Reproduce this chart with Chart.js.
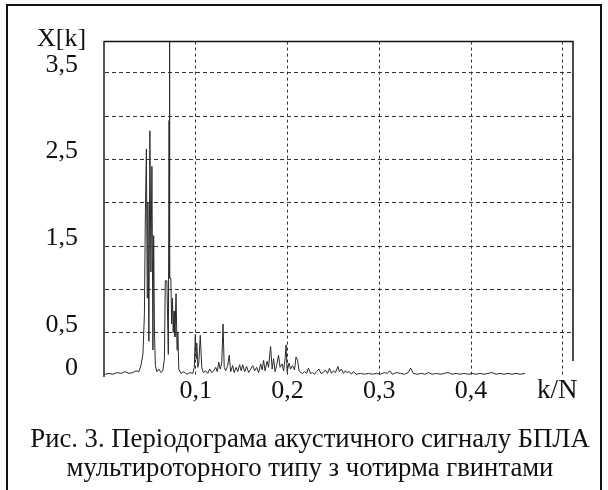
<!DOCTYPE html>
<html>
<head>
<meta charset="utf-8">
<script src="https://cdn.jsdelivr.net/npm/chart.js@4.4.1/dist/chart.umd.min.js"></script>
<style>
  body { margin: 0; background: #fff; }
  #wrap { position: relative; width: 608px; height: 490px; overflow: hidden; font-family: "Liberation Serif", "DejaVu Serif", serif; color: #111; }
  #chart { position: absolute; left: 0; top: 0; }
  #frame { position: absolute; left: 6px; top: 4px; width: 596px; height: 520px; border: 2px solid #111; box-sizing: border-box; }
  .lbl { position: absolute; white-space: nowrap; }
  #ytitle { left: 37px; top: 25px; font-size: 26px; line-height: 26px; }
  #xtitle { left: 537px; top: 376px; font-size: 27px; line-height: 27px; }
  #caption { left: 0; width: 620px; top: 424px; font-size: 26.7px; line-height: 29px; text-align: center; }
</style>
</head>
<body>
<div id="wrap">
  <canvas id="chart" width="608" height="490"></canvas>
  <div id="frame"></div>
  <div class="lbl" id="ytitle">X[k]</div>
  <div class="lbl" id="xtitle">k/N</div>
  <div class="lbl" id="caption">Рис. 3. Періодограма акустичного сигналу БПЛА<br>мультироторного типу з чотирма гвинтами</div>
</div>
<script>
// k/N positions of the traced periodogram vertices
const kN = [
  0.0011, 0.0054, 0.0098, 0.0141, 0.0185, 0.0228, 0.0272, 0.0315, 0.0348, 0.0380,
  0.0402, 0.0424, 0.0440, 0.0451, 0.0462, 0.0471, 0.0478, 0.0489, 0.0500, 0.0511,
  0.0522, 0.0533, 0.0541, 0.0550, 0.0560, 0.0576, 0.0598, 0.0620, 0.0641, 0.0658,
  0.0668, 0.0685, 0.0701, 0.0709, 0.0713, 0.0717, 0.0728, 0.0737, 0.0746, 0.0754,
  0.0763, 0.0772, 0.0785, 0.0796, 0.0804, 0.0815, 0.0837, 0.0870, 0.0902, 0.0935,
  0.0967, 0.0984, 0.0995, 0.1003, 0.1011, 0.1022, 0.1033, 0.1049, 0.1065, 0.1082,
  0.1109, 0.1130, 0.1152, 0.1174, 0.1196, 0.1217, 0.1234, 0.1250, 0.1266, 0.1283,
  0.1297, 0.1310, 0.1326, 0.1348, 0.1364, 0.1380, 0.1402, 0.1418, 0.1440, 0.1457,
  0.1478, 0.1495, 0.1511, 0.1533, 0.1554, 0.1576, 0.1598, 0.1620, 0.1641, 0.1663,
  0.1685, 0.1707, 0.1723, 0.1739, 0.1755, 0.1777, 0.1793, 0.1815, 0.1832, 0.1848,
  0.1864, 0.1880, 0.1902, 0.1918, 0.1940, 0.1957, 0.1973, 0.1984, 0.1995, 0.2016,
  0.2033, 0.2054, 0.2076, 0.2092, 0.2109, 0.2125, 0.2141, 0.2163, 0.2185, 0.2207,
  0.2228, 0.2250, 0.2272, 0.2293, 0.2315, 0.2342, 0.2364, 0.2391, 0.2413, 0.2435,
  0.2457, 0.2478, 0.2500, 0.2522, 0.2549, 0.2565, 0.2587, 0.2609, 0.2630, 0.2652,
  0.2674, 0.2696, 0.2717, 0.2750, 0.2793, 0.2837, 0.2880, 0.2924, 0.2967, 0.3011,
  0.3054, 0.3087, 0.3114, 0.3141, 0.3185, 0.3228, 0.3272, 0.3315, 0.3342, 0.3370,
  0.3413, 0.3457, 0.3500, 0.3533, 0.3576, 0.3620, 0.3663, 0.3707, 0.3750, 0.3793,
  0.3837, 0.3880, 0.3924, 0.3967, 0.4011, 0.4054, 0.4098, 0.4141, 0.4185, 0.4228,
  0.4272, 0.4315, 0.4359, 0.4402, 0.4446, 0.4489, 0.4533, 0.4587
];
// X[k] amplitude at each vertex
const Xk = [
  0.02, 0.03, 0.02, 0.04, 0.03, 0.05, 0.03, 0.04, 0.06, 0.05,
  0.12, 0.25, 0.70, 1.90, 2.62, 0.90, 2.00, 0.40, 2.83, 1.20,
  2.42, 0.30, 1.62, 0.50, 0.12, 0.05, 0.08, 0.04, 0.06, 0.20,
  1.10, 1.10, 0.25, 2.95, 4.60, 1.13, 1.13, 0.60, 0.90, 0.50,
  0.75, 0.45, 0.95, 0.30, 0.50, 0.08, 0.03, 0.05, 0.02, 0.04,
  0.03, 0.10, 0.48, 0.20, 0.38, 0.10, 0.15, 0.47, 0.10, 0.04,
  0.06, 0.03, 0.08, 0.04, 0.06, 0.10, 0.05, 0.16, 0.08, 0.15,
  0.60, 0.10, 0.06, 0.12, 0.24, 0.05, 0.12, 0.04, 0.10, 0.05,
  0.13, 0.06, 0.13, 0.05, 0.11, 0.04, 0.08, 0.12, 0.06, 0.10,
  0.04, 0.14, 0.07, 0.18, 0.06, 0.17, 0.10, 0.34, 0.08, 0.20,
  0.05, 0.12, 0.24, 0.10, 0.14, 0.06, 0.20, 0.36, 0.05, 0.15,
  0.08, 0.12, 0.07, 0.22, 0.18, 0.06, 0.04, 0.03, 0.05, 0.03,
  0.09, 0.03, 0.04, 0.02, 0.05, 0.08, 0.03, 0.04, 0.07, 0.03,
  0.09, 0.03, 0.06, 0.04, 0.11, 0.05, 0.08, 0.03, 0.06, 0.04,
  0.05, 0.02, 0.05, 0.02, 0.03, 0.02, 0.03, 0.02, 0.03, 0.02,
  0.04, 0.03, 0.06, 0.02, 0.04, 0.03, 0.02, 0.04, 0.09, 0.03,
  0.02, 0.03, 0.02, 0.04, 0.02, 0.03, 0.02, 0.03, 0.04, 0.02,
  0.03, 0.02, 0.03, 0.02, 0.03, 0.02, 0.03, 0.02, 0.03, 0.04,
  0.02, 0.03, 0.02, 0.03, 0.02, 0.03, 0.02, 0.03
];

const xTicks = [0.1, 0.2, 0.3, 0.4, 0.5];
const xTickLabels = ['0,1', '0,2', '0,3', '0,4', ''];
const yTicks = [0, 0.5, 1, 1.5, 2, 2.5, 3, 3.5];
const yTickLabels = ['0', '0,5', '', '1,5', '', '2,5', '', '3,5'];

const serif = { family: '"Liberation Serif", "DejaVu Serif", serif', size: 26 };

// top and right edges of the plot box
const boxEdges = {
  id: 'boxEdges',
  afterDraw(chart) {
    const { ctx, chartArea: a } = chart;
    ctx.save();
    ctx.strokeStyle = '#111';
    ctx.lineWidth = 1.5;
    ctx.beginPath();
    ctx.moveTo(a.left, a.top);
    ctx.lineTo(a.right, a.top);
    ctx.lineTo(a.right, a.bottom - 15);
    ctx.stroke();
    ctx.restore();
  }
};

new Chart(document.getElementById('chart'), {
  type: 'line',
  plugins: [boxEdges],
  data: {
    datasets: [{
      data: kN.map((x, i) => ({ x: x, y: Xk[i] })),
      borderColor: '#2a2a2a',
      borderWidth: 1,
      pointRadius: 0,
      tension: 0,
      fill: false
    }]
  },
  options: {
    responsive: false,
    animation: false,
    events: [],
    layout: { padding: { left: 0, top: 40, right: 35, bottom: 0 } },
    plugins: { legend: { display: false }, tooltip: { enabled: false } },
    scales: {
      x: {
        type: 'linear',
        min: 0,
        max: 0.511,
        afterBuildTicks: (scale) => { scale.ticks = xTicks.map(v => ({ value: v })); },
        afterFit: (scale) => { scale.height = 114; },
        grid: { color: '#333', lineWidth: 1, drawTicks: false },
        border: { display: false, dash: [3, 3] },
        ticks: {
          color: '#111',
          font: serif,
          padding: 0,
          maxRotation: 0,
          autoSkip: false,
          callback: (v, i) => xTickLabels[i]
        }
      },
      y: {
        min: 0,
        max: 3.86,
        afterBuildTicks: (scale) => { scale.ticks = yTicks.map(v => ({ value: v })); },
        afterFit: (scale) => { scale.width = 104; },
        grid: {
          color: (c) => (c.tick && c.tick.value === 0 ? 'rgba(0,0,0,0)' : '#333'),
          lineWidth: 1,
          drawTicks: false
        },
        border: { display: true, color: '#555', width: 2, dash: [4, 3] },
        ticks: {
          color: '#111',
          font: serif,
          padding: 26,
          labelOffset: -8,
          autoSkip: false,
          callback: (v, i) => yTickLabels[i]
        }
      }
    }
  }
});
</script>
</body>
</html>
